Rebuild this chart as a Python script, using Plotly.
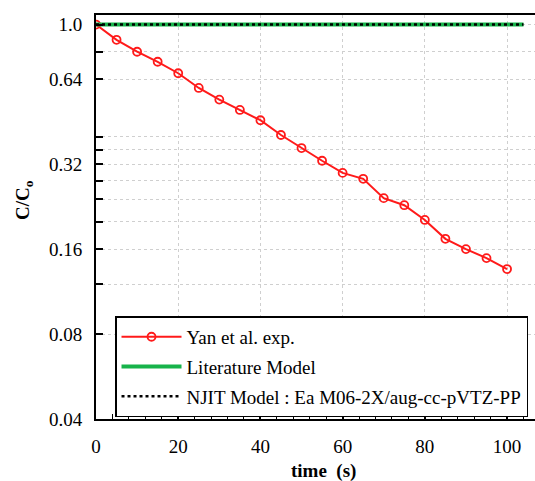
import plotly.graph_objects as go

# Measured decay of C/C0 with time (Yan et al.)
time_exp = [0, 5, 10, 15, 20, 25, 30, 35, 40, 45, 50,
            55, 60, 65, 70, 75, 80, 85, 90, 95, 100]
conc_exp = [1.0, 0.883, 0.801, 0.738, 0.672, 0.596, 0.542, 0.498, 0.458, 0.406, 0.365,
            0.329, 0.298, 0.284, 0.2425, 0.229, 0.203, 0.174, 0.160, 0.1487, 0.136]

# Model predictions (no decay over the time window)
time_model = [0, 104]
conc_literature = [1.0, 1.0]
conc_njit = [1.0, 1.0]

y_major = [0.04, 0.08, 0.16, 0.32, 0.64, 1.0]
y_major_text = ["0.04", "0.08", "0.16", "0.32", "0.64", "1.0"]
y_minor = [0.12, 0.20, 0.24, 0.28, 0.36, 0.40, 0.80]

FONT = "Liberation Serif"
GRID = "#cfcfcf"

fig = go.Figure()

fig.add_trace(go.Scatter(
    x=time_exp, y=conc_exp, mode="lines+markers", name="Yan et al. exp.",
    line=dict(color="#ff1a1a", width=2),
    marker=dict(symbol="circle-open", size=8, color="#ff1a1a", line=dict(width=1.8)),
    legendgroup="a",
))
fig.add_trace(go.Scatter(
    x=time_model, y=conc_literature, mode="lines", name="Literature Model",
    line=dict(color="#17b34a", width=4),
    legendgroup="b",
))
fig.add_trace(go.Scatter(
    x=time_model, y=conc_njit, mode="lines", name="NJIT Model : Ea M06-2X/aug-cc-pVTZ-PP",
    line=dict(color="black", width=2.5, dash="dot"),
    legendgroup="c",
))

fig.update_xaxes(
    range=[0, 106.8],
    tickvals=[0, 20, 40, 60, 80, 100],
    ticks="inside", ticklen=7, tickwidth=1.5, tickcolor="black",
    showline=True, linecolor="black", linewidth=2, mirror=True,
    showgrid=True, gridcolor=GRID, griddash="dot", gridwidth=1,
    zeroline=False,
    minor=dict(dtick=4, tick0=0, ticks="inside", ticklen=5, tickwidth=1.2,
               tickcolor="black", showgrid=False),
    tickfont=dict(family=FONT, size=19, color="black"),
    ticklabelstandoff=9,
)
fig.update_yaxes(
    type="log",
    range=[-1.39794, 0.0338],
    tickvals=y_major, ticktext=y_major_text,
    ticks="inside", ticklen=7, tickwidth=1.5, tickcolor="black",
    showline=True, linecolor="black", linewidth=2, mirror=False,
    showgrid=True, gridcolor=GRID, griddash="dot", gridwidth=1,
    zeroline=False,
    minor=dict(tickvals=y_minor, ticks="inside", ticklen=7, tickwidth=1.5,
               tickcolor="black", showgrid=True, gridcolor=GRID, griddash="dot",
               gridwidth=1),
    tickfont=dict(family=FONT, size=19, color="black"),
    ticklabelstandoff=8,
)

fig.add_annotation(
    text="<b>C/C<sub>o</sub></b>", textangle=-90,
    xref="paper", yref="paper", x=-0.164, y=0.542,
    xanchor="center", yanchor="middle", showarrow=False,
    font=dict(family=FONT, size=19, color="black"),
)
fig.add_annotation(
    text="<b>time  (s)</b>",
    xref="paper", yref="paper", x=0.519, y=-0.128,
    xanchor="center", yanchor="middle", showarrow=False,
    font=dict(family=FONT, size=19, color="black"),
)

fig.update_layout(
    width=535, height=481,
    margin=dict(l=96, r=0, t=15, b=62),
    paper_bgcolor="white", plot_bgcolor="white",
    showlegend=True,
    legend=dict(
        x=0.0433, y=0.254, xanchor="left", yanchor="top",
        bgcolor="white", bordercolor="black", borderwidth=1.5,
        font=dict(family=FONT, size=19, color="black"),
        itemwidth=60, tracegroupgap=2,
    ),
)

fig.write_html("out.html")
